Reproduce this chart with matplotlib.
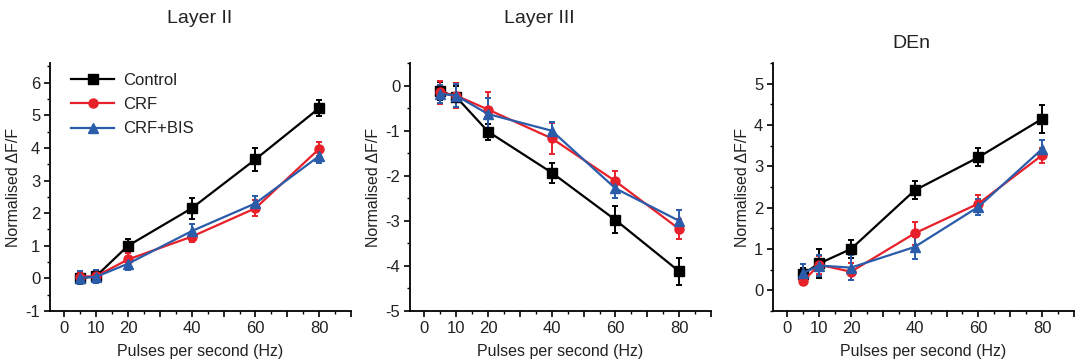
import numpy as np
import matplotlib.pyplot as plt

plt.rcParams['font.family'] = ['Liberation Sans', 'DejaVu Sans']
plt.rcParams['axes.unicode_minus'] = False

# Stimulation frequencies (Hz)
freqs = [5, 10, 20, 40, 60, 80]

# Layer II
l2_control = [0.0, 0.07, 1.0, 2.15, 3.65, 5.22]
l2_control_err = [0.15, 0.2, 0.22, 0.32, 0.35, 0.25]
l2_crf = [0.05, 0.07, 0.58, 1.28, 2.15, 3.97]
l2_crf_err = [0.15, 0.2, 0.2, 0.15, 0.25, 0.22]
l2_bis = [0.02, 0.05, 0.45, 1.45, 2.3, 3.75]
l2_bis_err = [0.2, 0.2, 0.2, 0.22, 0.22, 0.2]

# Layer III
l3_control = [-0.12, -0.25, -1.02, -1.93, -2.98, -4.12]
l3_control_err = [0.2, 0.25, 0.18, 0.22, 0.3, 0.3]
l3_crf = [-0.15, -0.22, -0.53, -1.17, -2.12, -3.18]
l3_crf_err = [0.25, 0.28, 0.4, 0.35, 0.23, 0.22]
l3_bis = [-0.18, -0.22, -0.63, -1.0, -2.28, -3.0]
l3_bis_err = [0.2, 0.25, 0.35, 0.2, 0.22, 0.25]

# DEn
den_control = [0.4, 0.65, 1.0, 2.42, 3.22, 4.15]
den_control_err = [0.15, 0.35, 0.22, 0.22, 0.22, 0.33]
den_crf = [0.22, 0.62, 0.45, 1.38, 2.1, 3.27]
den_crf_err = [0.1, 0.22, 0.2, 0.28, 0.2, 0.18]
den_bis = [0.42, 0.6, 0.55, 1.05, 2.02, 3.42]
den_bis_err = [0.22, 0.25, 0.3, 0.3, 0.2, 0.22]

series_names = ['Control', 'CRF', 'CRF+BIS']
colors = ['black', '#e8202a', '#2a5caa']
markers = ['s', 'o', '^']
text_color = '#222222'

panels = [
    ('Layer II', [l2_control, l2_crf, l2_bis], [l2_control_err, l2_crf_err, l2_bis_err],
     (-1, 6.6), np.arange(-1, 7, 1), 0.0465, 0.186, 0.95),
    ('Layer III', [l3_control, l3_crf, l3_bis], [l3_control_err, l3_crf_err, l3_bis_err],
     (-5, 0.5), np.arange(-5, 1, 1), 0.3814, 0.502, 0.95),
    ('DEn', [den_control, den_crf, den_bis], [den_control_err, den_crf_err, den_bis_err],
     (-0.5, 5.5), np.arange(0, 6, 1), 0.719, 0.848, 0.88),
]

fig = plt.figure(figsize=(10.75, 3.64), dpi=100)

for i, (title, values, errs, ylim, yticks, left, title_x, title_y) in enumerate(panels):
    ax = fig.add_axes([left, 0.1456, 0.28, 0.681])
    handles = []
    for name, vals, err, c, m in zip(series_names, values, errs, colors, markers):
        cont = ax.errorbar(freqs, vals, yerr=err, color=c, marker=m, markersize=6.5,
                           linewidth=1.6, elinewidth=1.4, capsize=2, capthick=1.4)
        handles.append(cont[0])
    ax.set_xlim(-4.5, 90)
    ax.set_ylim(*ylim)
    ax.set_yticks(yticks)
    ax.set_yticks(np.arange(ylim[0], ylim[1] + 0.01, 0.5), minor=True)
    ax.set_xticks([0, 10, 20, 30, 40, 50, 60, 70, 80, 90])
    ax.set_xticklabels(['0', '10', '20', '', '40', '', '60', '', '80', ''])
    ax.set_xticks(np.arange(0, 91, 5), minor=True)
    for s in ['top', 'right']:
        ax.spines[s].set_visible(False)
    for s in ['left', 'bottom']:
        ax.spines[s].set_linewidth(1.3)
    ax.tick_params(which='major', direction='out', length=4, width=1.2,
                   labelsize=12, colors='black', labelcolor=text_color, pad=3)
    ax.tick_params(which='minor', direction='out', length=2, width=1.0)
    ax.set_xlabel('Pulses per second (Hz)', fontsize=11.5, color=text_color, labelpad=6)
    ax.set_ylabel('Normalised \u0394F/F', fontsize=11.5, color=text_color, labelpad=3)
    fig.text(title_x, title_y, title, ha='center', va='center',
             fontsize=14, color=text_color)
    if i == 0:
        ax.legend(handles, series_names, loc='upper left', bbox_to_anchor=(0.02, 1.02),
                  frameon=False, fontsize=12, handlelength=2.6, handletextpad=0.5,
                  labelspacing=0.55, labelcolor=text_color)

fig.savefig('out.png', dpi=100)
